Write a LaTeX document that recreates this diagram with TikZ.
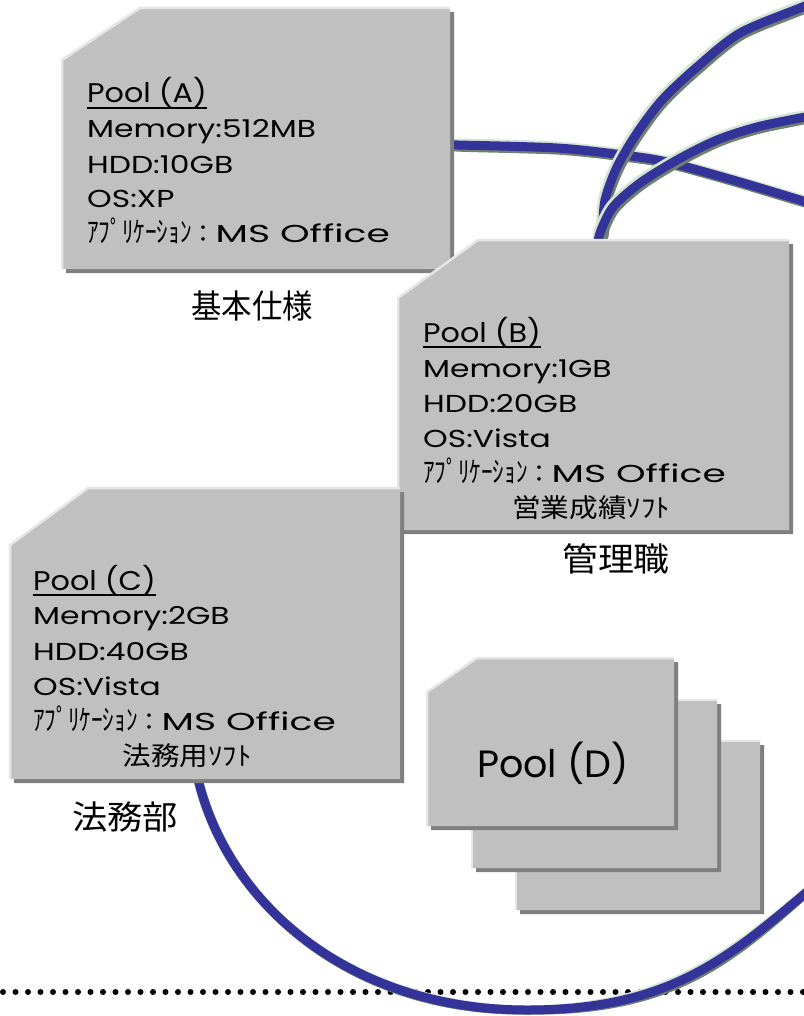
\documentclass[tikz,border=0pt]{standalone}
\usepackage{fontspec}
\usepackage{graphicx}
\newfontfamily\hdfont[FakeStretch=1.12]{Poppins}
\newfontfamily\bdfont[FakeStretch=1.28]{Poppins}
\newfontfamily\dfont{Poppins}
\newfontfamily\jp{Noto Sans CJK JP}
\definecolor{boxgray}{HTML}{C0C0C0}
\definecolor{shadowgray}{HTML}{7F7F7F}
\definecolor{hlgray}{HTML}{E6E6E6}
\definecolor{cableblue}{HTML}{333399}
\definecolor{cabledark}{HTML}{6E806E}
\definecolor{cablelight}{HTML}{D5E5D5}
\tikzset{
  txt/.style={inner sep=0pt, anchor=base west},
  ctxt/.style={inner sep=0pt, anchor=base},
  lbl/.style={inner sep=0pt, anchor=center},
  uline/.style={line width=1.5pt},
  dots/.style={line width=6pt, line cap=round, dash pattern=on 0pt off 12.5pt},
}
% #1 left, #2 top, #3 right, #4 bottom, #5 chamfer x, #6 chamfer y
\newcommand\poolbox[6]{%
  \fill[shadowgray] (#1+4,#4+4) -- (#1+4,#2+#6+4) -- (#1+#5+4,#2+4) -- (#3+4,#2+4) -- (#3+4,#4+4) -- cycle;
  \fill[boxgray] (#1,#4) -- (#1,#2+#6) -- (#1+#5,#2) -- (#3,#2) -- (#3,#4) -- cycle;
  \draw[hlgray, line width=2.5pt] (#1,#4) -- (#1,#2+#6) -- (#1+#5,#2) -- (#3,#2);
}
\newcommand\cable[1]{%
  \draw[cabledark, line width=9pt, shift={(2.2,2.2)}] #1;
  \draw[cablelight, line width=9pt, shift={(-2,-2)}] #1;
  \draw[cableblue, line width=9pt] #1;
}
% application line: katakana, full-width colon, MS Office
\newcommand\appline{{\scalebox{0.8}[1]{\fontsize{29}{29}\jp ｱﾌﾟﾘｹｰｼｮﾝ}}{\fontsize{24}{24}\jp ：}{\scalebox{1.2}[1]{\fontsize{24.5}{24.5}\bdfont MS Office}}}
\begin{document}
\begin{tikzpicture}[x=1pt, y=-1pt]
\useasboundingbox (0,0) rectangle (803,1016);
\fill[white] (0,0) rectangle (803,1016);

% dotted separator
\coordinate (dotL) at (3,992);
\coordinate (dotR) at (803,992);
\draw[dots] (dotL) -- (dotR);

% cable end points
\coordinate (a1) at (440,145);  \coordinate (a2) at (815,205);
\coordinate (b1) at (597,250);  \coordinate (b2) at (815,2);
\coordinate (b3) at (815,116);
\coordinate (c1) at (196,770);  \coordinate (cm) at (527,1010);
\coordinate (c2) at (815,885);

% cables
\cable{plot[smooth] coordinates {(a1) (458,145) (557,148) (623,155) (667,162) (733,180) (800,200) (a2)}}
\cable{plot[smooth] coordinates {(b1) (602,233) (605,200) (617,167) (637,133) (662,100) (697,67) (740,33) (800,8) (b2)}}
\cable{plot[smooth] coordinates {(b1) (600,233) (613,207) (640,183) (677,160) (717,140) (757,127) (800,118) (b3)}}
\cable{(c1) .. controls (222,900) and (347,1010) .. (cm) .. controls (672,1010) and (731,956) .. (c2)}

% boxes
\poolbox{62}{8}{450}{269}{78}{52}
\poolbox{398}{240}{789}{530}{80}{58}
\poolbox{10}{488}{400}{779}{78}{57}
\poolbox{516}{741}{760}{910}{0}{0}
\poolbox{472}{700}{717}{868}{0}{0}
\poolbox{427}{658}{674}{826}{50}{34}

% Pool A
\node[txt] (pa) at (87,103) {\fontsize{27}{27}\hdfont Pool (A)};
\draw[uline] ([yshift=-5pt]pa.base west) -- ([yshift=-5pt]pa.base east);
\node[txt] (pa1) at (87,138) {\fontsize{24.5}{24.5}\bdfont Memory:512MB};
\node[txt] (pa2) at (87,174) {\fontsize{24.5}{24.5}\bdfont HDD:10GB};
\node[txt] (pa3) at (87,208) {\fontsize{24.5}{24.5}\bdfont OS:XP};
\node[txt] (pa4) at (87,243) {\appline};
\node[lbl] (la) at (252,306) {\fontsize{33}{33}\jp\scalebox{0.92}[1]{基本仕様}};

% Pool B
\node[txt] (pb) at (423,342) {\fontsize{27}{27}\hdfont Pool (B)};
\draw[uline] ([yshift=-5pt]pb.base west) -- ([yshift=-5pt]pb.base east);
\node[txt] (pb1) at (423,377) {\fontsize{24.5}{24.5}\bdfont Memory:1GB};
\node[txt] (pb2) at (423,412) {\fontsize{24.5}{24.5}\bdfont HDD:20GB};
\node[txt] (pb3) at (423,447) {\fontsize{24.5}{24.5}\bdfont OS:Vista};
\node[txt] (pb4) at (423,482) {\appline};
\node[ctxt] (pb5) at (591,517) {\fontsize{26}{26}\jp\scalebox{1.1}[1]{営業成績ｿﾌﾄ}};
\node[lbl] (lb) at (616,559) {\fontsize{33}{33}\jp\scalebox{1.09}[1]{管理職}};

% Pool C
\node[txt] (pc) at (33,590) {\fontsize{27}{27}\hdfont Pool (C)};
\draw[uline] ([yshift=-5pt]pc.base west) -- ([yshift=-5pt]pc.base east);
\node[txt] (pc1) at (33,624) {\fontsize{24.5}{24.5}\bdfont Memory:2GB};
\node[txt] (pc2) at (33,660) {\fontsize{24.5}{24.5}\bdfont HDD:40GB};
\node[txt] (pc3) at (33,695) {\fontsize{24.5}{24.5}\bdfont OS:Vista};
\node[txt] (pc4) at (33,730) {\appline};
\node[ctxt] (pc5) at (187,765) {\fontsize{26}{26}\jp\scalebox{1.1}[1]{法務用ｿﾌﾄ}};
\node[lbl] (lc) at (125,817) {\fontsize{33}{33}\jp\scalebox{1.07}[1]{法務部}};

% Pool D
\node[txt] (pd) at (477,777) {\fontsize{38}{38}\dfont Pool (D)};
\end{tikzpicture}
\end{document}
